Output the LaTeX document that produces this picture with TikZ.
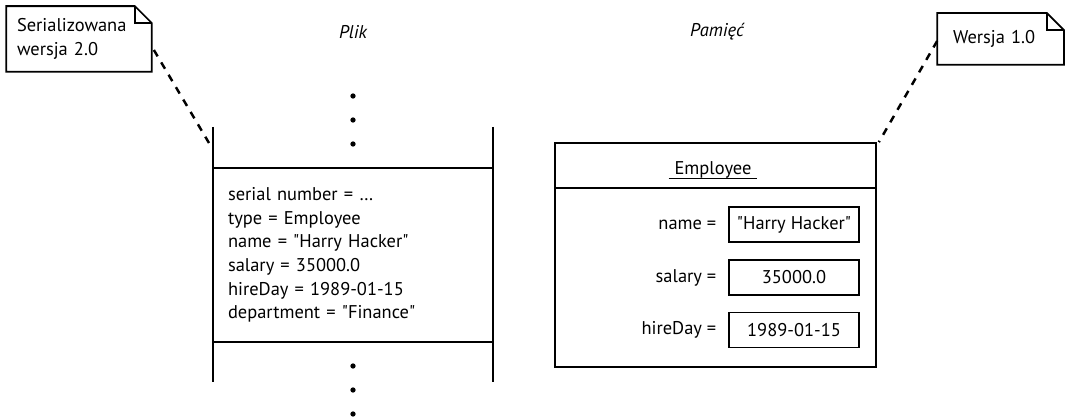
\documentclass[tikz,border=0pt]{standalone}
\usepackage{fontspec}
\setmainfont{PT Sans}
\usetikzlibrary{positioning,calc}
\newcommand{\dq}{\textquotedbl}

\begin{document}
\begin{tikzpicture}[x=0.02cm, y=-0.02cm, line width=1pt, font=\fontsize{10.5}{13.5}\selectfont]
			\tikzstyle{note}  = [rectangle, inner sep=0pt, align=left]
			\tikzstyle{rec}   = [rectangle, draw, inner sep=0pt, align=left]
			\tikzstyle{val}   = [rectangle, draw, minimum width=2.6cm, minimum height=0.7cm]
			\tikzstyle{lbl}   = [inner sep=0pt]
			\tikzstyle{dot}   = [circle, fill=black, inner sep=0pt, minimum size=3pt]
			\tikzstyle{title} = [font=\fontsize{10.5}{13.5}\selectfont\itshape]
			\tikzstyle{link}  = [line width=1.4pt, dash pattern=on 4.2pt off 4pt]

			\useasboundingbox (0,0) rectangle (1067,418);

			% notes
			\node[note, minimum width=2.88cm, minimum height=1.28cm, text width=2.48cm] (ser) at (79,39) {Serializowana\\wersja 2.0};
			\node[note, minimum width=2.5cm, minimum height=1cm, text width=1.9cm] (ver) at (1000.5,39) {Wersja 1.0};
			\foreach \nt in {ser, ver} {
				\draw (\nt.north west) -- ($(\nt.north east)+(-17,0)$) -- ($(\nt.north east)+(0,17)$) -- (\nt.south east) -- (\nt.south west) -- cycle;
				\draw ($(\nt.north east)+(-17,0)$) -- ($(\nt.north east)+(-17,17)$) -- ($(\nt.north east)+(0,17)$);
			}

			\node[title] (plik) at (353,32) {Plik};
			\node[title] (pam) at (717,32) {Pamięć};

			% file
			\node[rec, minimum width=5.6cm, minimum height=3.48cm, text width=5cm] (rec) at (353,255) {serial number = \ldots\\type = Employee\\name = \dq Harry Hacker\dq\\salary = 35000.0\\hireDay = 1989-01-15\\department = \dq Finance\dq};
			\coordinate (railtl) at (213,127);
			\coordinate (railbl) at (213,382);
			\coordinate (railtr) at (493,127);
			\coordinate (railbr) at (493,382);
			\draw (railtl) -- (railbl);
			\draw (railtr) -- (railbr);
			\foreach \n/\y in {1/96, 2/120, 3/144, 4/366, 5/390, 6/414}
				\node[dot] (dot\n) at (353,\y) {};

			% memory
			\node[draw, minimum width=6.42cm, minimum height=4.48cm] (obj) at (715.5,255) {};
			\draw (obj.west |- 0,188) -- (obj.east |- 0,188);
			\node[inner xsep=0.1cm] (emp) at (713,170) {Employee};
			\draw ($(emp.base west)+(0,4)$) -- ($(emp.base east)+(0,4)$);

			\node[val] (vname) at (794,224.5) {\dq Harry Hacker\dq};
			\node[val] (vsal) at (794,277.5) {35000.0};
			\node[val] (vday) at (794,330) {1989-01-15};
			\node[lbl, left=0.22cm of vname] (lname) {name =};
			\node[lbl, left=0.22cm of vsal] (lsal) {salary =};
			\node[lbl, left=0.22cm of vday] (lday) {hireDay =};

			% links
			\coordinate (serend) at (209,143);
			\draw[link] ($(ser.east)+(2,11)$) -- (serend);
			\draw[link] ($(ver.west)+(0,2)$) -- ($(obj.north east)+(2,0)$);

		\end{tikzpicture}
\end{document}
